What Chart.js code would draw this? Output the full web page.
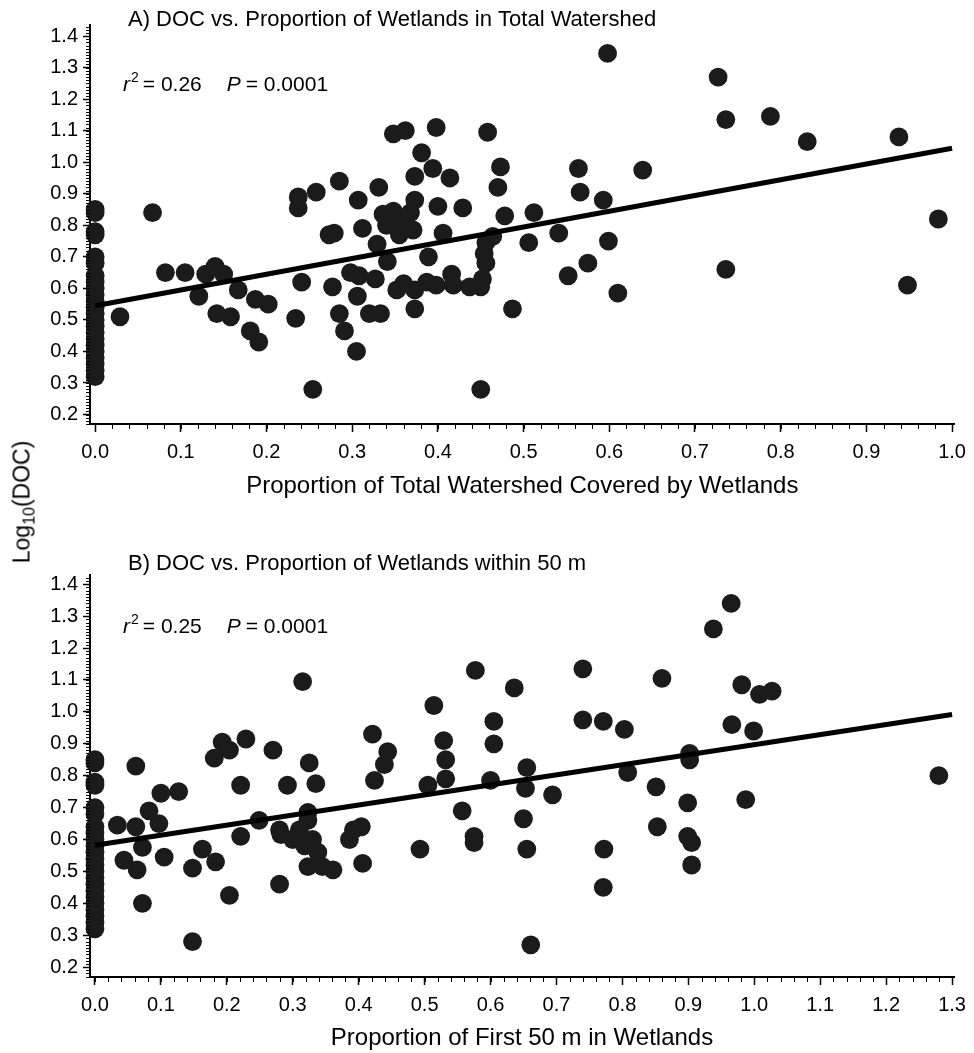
<!DOCTYPE html>
<html>
<head>
<meta charset="utf-8">
<script src="https://cdn.jsdelivr.net/npm/chart.js"></script>
<style>
  body { margin: 0; background: #fff; }
  #wrap { position: relative; width: 974px; height: 1053px; }
  #wrap canvas { position: absolute; left: 0; }
  #ylab {
    position: absolute; left: 22px; top: 502px;
    transform: translate(-50%, -50%) rotate(-90deg);
    font: 23px "Liberation Sans", Arial, sans-serif; line-height: 1;
    white-space: nowrap; color: #000;
  }
  #ylab sub { font-size: 16px; position: relative; top: 5px; vertical-align: baseline; }
</style>
</head>
<body>
<div id="wrap">
  <canvas id="chartA" width="974" height="530" style="top:0"></canvas>
  <canvas id="chartB" width="974" height="523" style="top:530px"></canvas>
  <div id="ylab">Log<sub>10</sub>(DOC)</div>
</div>
<script>
const FONT = '"Liberation Sans", Arial, Helvetica, sans-serif';

// tick labels
const yTicks = [0.2, 0.3, 0.4, 0.5, 0.6, 0.7, 0.8, 0.9, 1.0, 1.1, 1.2, 1.3, 1.4];
const xTicksA = [0, 0.1, 0.2, 0.3, 0.4, 0.5, 0.6, 0.7, 0.8, 0.9, 1.0];
const xTicksB = [0, 0.1, 0.2, 0.3, 0.4, 0.5, 0.6, 0.7, 0.8, 0.9, 1.0, 1.1, 1.2, 1.3];

// A) proportion of total watershed covered by wetlands vs log10(DOC)
const wetTotal = [
  0, 0, 0, 0, 0, 0, 0, 0, 0, 0, 0, 0, 0, 0, 0, 0, 0, 0, 0, 0, 0, 0, 0,
  0.029, 0.067, 0.082, 0.105, 0.121, 0.129, 0.140, 0.150, 0.142, 0.158, 0.167, 0.181, 0.191, 0.187, 0.202,
  0.234, 0.241, 0.237, 0.237, 0.258, 0.285, 0.254, 0.279, 0.273, 0.277, 0.285, 0.291, 0.298, 0.307, 0.306,
  0.305, 0.312, 0.308, 0.331, 0.329, 0.320, 0.333, 0.327, 0.341, 0.336, 0.340, 0.348, 0.352, 0.355, 0.364,
  0.368, 0.371, 0.373, 0.373, 0.348, 0.362, 0.381, 0.394, 0.398, 0.414, 0.400, 0.389, 0.406, 0.429, 0.352,
  0.360, 0.373, 0.373, 0.387, 0.398, 0.416, 0.418, 0.437, 0.450, 0.452, 0.456, 0.454, 0.456, 0.464, 0.450,
  0.458, 0.473, 0.470, 0.478, 0.487, 0.506, 0.512, 0.541, 0.552, 0.564, 0.566, 0.575, 0.593, 0.599, 0.598,
  0.610, 0.639, 0.727, 0.736, 0.736, 0.788, 0.831, 0.938, 0.948, 0.984
];
const docTotal = [
  0.85, 0.84, 0.78, 0.77, 0.70, 0.68, 0.64, 0.62, 0.60, 0.58, 0.56, 0.54, 0.52, 0.50, 0.48, 0.46, 0.44, 0.42, 0.40, 0.38, 0.36, 0.34, 0.32,
  0.51, 0.84, 0.65, 0.65, 0.575, 0.645, 0.67, 0.645, 0.52, 0.51, 0.595, 0.465, 0.43, 0.565, 0.55,
  0.505, 0.62, 0.89, 0.855, 0.905, 0.94, 0.28, 0.775, 0.77, 0.605, 0.52, 0.465, 0.65, 0.88, 0.575,
  0.40, 0.79, 0.64, 0.92, 0.74, 0.52, 0.52, 0.63, 0.685, 0.835, 0.80, 0.845, 0.82, 0.77, 0.80,
  0.84, 0.785, 0.88, 0.955, 1.09, 1.10, 1.03, 0.98, 1.11, 0.95, 0.86, 0.70, 0.775, 0.855, 0.595,
  0.615, 0.595, 0.535, 0.62, 0.61, 0.645, 0.61, 0.605, 0.605, 0.63, 0.68, 0.71, 0.745, 0.765, 0.28,
  1.095, 0.985, 0.92, 0.83, 0.535, 0.745, 0.84, 0.775, 0.64, 0.98, 0.905, 0.68, 0.88, 0.75, 1.345,
  0.585, 0.975, 1.27, 1.135, 0.66, 1.145, 1.065, 1.08, 0.61, 0.82
];
const fitA = [{ x: 0, y: 0.545 }, { x: 1.0, y: 1.044 }];

// B) proportion of first 50 m in wetlands vs log10(DOC)
const wet50 = [
  0, 0, 0, 0, 0, 0, 0, 0, 0, 0, 0, 0, 0, 0, 0, 0, 0, 0, 0, 0, 0, 0, 0,
  0.034, 0.044, 0.062, 0.062, 0.064, 0.072, 0.072, 0.082, 0.097, 0.100, 0.105, 0.127, 0.148, 0.148, 0.163,
  0.181, 0.183, 0.193, 0.204, 0.204, 0.221, 0.221, 0.229, 0.249, 0.270, 0.280, 0.282, 0.280, 0.292, 0.300,
  0.310, 0.315, 0.318, 0.323, 0.323, 0.323, 0.325, 0.330, 0.335, 0.338, 0.345, 0.361, 0.386, 0.392, 0.404,
  0.406, 0.421, 0.424, 0.439, 0.444, 0.493, 0.505, 0.514, 0.529, 0.532, 0.532, 0.557, 0.575, 0.575, 0.577,
  0.600, 0.605, 0.605, 0.636, 0.650, 0.653, 0.655, 0.655, 0.661, 0.694, 0.740, 0.740, 0.771, 0.771, 0.772,
  0.803, 0.808, 0.851, 0.853, 0.860, 0.899, 0.899, 0.902, 0.902, 0.905, 0.905, 0.938, 0.965, 0.966, 0.981,
  0.987, 0.999, 1.008, 1.027, 1.280
];
const doc50 = [
  0.85, 0.84, 0.78, 0.77, 0.70, 0.68, 0.64, 0.62, 0.60, 0.58, 0.56, 0.54, 0.52, 0.50, 0.48, 0.46, 0.44, 0.42, 0.40, 0.38, 0.36, 0.34, 0.32,
  0.645, 0.535, 0.83, 0.64, 0.505, 0.575, 0.40, 0.69, 0.65, 0.745, 0.545, 0.75, 0.51, 0.28, 0.57,
  0.855, 0.53, 0.905, 0.88, 0.425, 0.77, 0.61, 0.915, 0.66, 0.88, 0.63, 0.615, 0.46, 0.77, 0.60,
  0.63, 1.095, 0.58, 0.685, 0.66, 0.515, 0.84, 0.60, 0.775, 0.56, 0.515, 0.505, 0.60, 0.63, 0.64,
  0.525, 0.93, 0.785, 0.835, 0.875, 0.57, 0.77, 1.02, 0.91, 0.85, 0.79, 0.69, 0.61, 0.59, 1.13,
  0.785, 0.97, 0.90, 1.075, 0.665, 0.76, 0.825, 0.57, 0.27, 0.74, 1.135, 0.975, 0.97, 0.45, 0.57,
  0.945, 0.81, 0.765, 0.64, 1.105, 0.715, 0.61, 0.87, 0.85, 0.59, 0.52, 1.26, 1.34, 0.96, 1.085,
  0.725, 0.94, 1.055, 1.065, 0.80
];
const fitB = [{ x: 0, y: 0.582 }, { x: 1.3, y: 0.992 }];

// small ticks between the labelled ones
const minorTicks = {
  id: 'minorTicks',
  afterDraw(chart) {
    const { ctx, scales: { x, y } } = chart;
    ctx.save();
    ctx.strokeStyle = '#000';
    ctx.lineWidth = 1;
    ctx.beginPath();
    for (let i = Math.ceil(x.min / 0.02); i * 0.02 <= x.max + 1e-9; i++) {
      const px = Math.round(x.getPixelForValue(i * 0.02)) + 0.5;
      ctx.moveTo(px, x.top);
      ctx.lineTo(px, x.top + 5);
    }
    for (let i = Math.ceil(y.min / 0.01); i * 0.01 <= y.max + 1e-9; i++) {
      const py = Math.round(y.getPixelForValue(i * 0.01)) + 0.5;
      ctx.moveTo(y.right, py);
      ctx.lineTo(y.right - 4, py);
    }
    ctx.stroke();
    ctx.restore();
  }
};

// panel title and r^2 / P note
function panelText(o) {
  return {
    id: 'panelText',
    afterDraw(chart) {
      const ctx = chart.ctx;
      ctx.save();
      ctx.fillStyle = '#000';
      ctx.textAlign = 'left';
      ctx.textBaseline = 'alphabetic';
      ctx.font = '22px ' + FONT;
      ctx.fillText(o.title, 128, o.titleY);

      let x = 123;
      const y = o.statY;
      ctx.font = 'italic 21px ' + FONT;
      ctx.fillText('r', x, y);
      x += ctx.measureText('r').width + 1;
      ctx.font = '14px ' + FONT;
      ctx.fillText('2', x, y - 9);
      x += ctx.measureText('2').width + 4;
      ctx.font = '21px ' + FONT;
      let s = '= ' + o.r2;
      ctx.fillText(s, x, y);
      x += ctx.measureText(s).width + 25;
      ctx.font = 'italic 21px ' + FONT;
      ctx.fillText('P', x, y);
      x += ctx.measureText('P').width + 5;
      ctx.font = '21px ' + FONT;
      ctx.fillText('= ' + o.p, x, y);
      ctx.restore();
    }
  };
}

function makePanel(id, o) {
  return new Chart(document.getElementById(id), {
    type: 'scatter',
    data: {
      datasets: [
        {
          type: 'line', data: o.fit, borderColor: '#000', borderWidth: 5,
          pointRadius: 0, fill: false, clip: false, order: 0
        },
        {
          data: o.xs.map((v, i) => ({ x: v, y: o.ys[i] })),
          pointRadius: 9.4, pointHoverRadius: 9.4, backgroundColor: '#1b1b1b',
          borderWidth: 0, clip: false, order: 1
        }
      ]
    },
    options: {
      responsive: false,
      animation: false,
      events: [],
      layout: { autoPadding: false, padding: o.pad },
      plugins: { legend: { display: false }, tooltip: { enabled: false } },
      scales: {
        x: {
          type: 'linear', min: o.xMin, max: o.xMax,
          afterBuildTicks: s => { s.ticks = o.xTicks.map(v => ({ value: v })); },
          afterFit: s => { s.height = o.xHeight; },
          ticks: {
            callback: v => v.toFixed(1), color: '#000', padding: 8,
            font: { family: FONT, size: 20 }, autoSkip: false, maxRotation: 0
          },
          grid: { drawOnChartArea: false, drawTicks: true, tickLength: 8, tickColor: '#000', tickWidth: 1.5 },
          border: { display: true, color: '#000', width: 2 },
          title: {
            display: true, text: o.xTitle, color: '#000',
            font: { family: FONT, size: 24 }, padding: o.titlePad
          }
        },
        y: {
          type: 'linear', min: o.yMin, max: o.yMax,
          afterBuildTicks: s => { s.ticks = yTicks.map(v => ({ value: v })); },
          afterFit: s => { s.width = 90; },
          ticks: {
            callback: v => v.toFixed(1), color: '#000', padding: 5,
            font: { family: FONT, size: 20 }
          },
          grid: { drawOnChartArea: false, drawTicks: true, tickLength: 7, tickColor: '#000', tickWidth: 1.5 },
          border: { display: true, color: '#000', width: 2 }
        }
      }
    },
    plugins: [minorTicks, panelText(o)]
  });
}

makePanel('chartA', {
  xs: wetTotal, ys: docTotal, fit: fitA, xTicks: xTicksA,
  xMin: -0.006, xMax: 1.003, yMin: 0.17, yMax: 1.435,
  pad: { left: 0, right: 14, top: 25, bottom: 0 }, xHeight: 106,
  xTitle: 'Proportion of Total Watershed Covered by Wetlands',
  titlePad: { top: 4, bottom: 29 },
  title: 'A) DOC vs. Proportion of Wetlands in Total Watershed', titleY: 26,
  statY: 91, r2: '0.26', p: '0.0001'
});

makePanel('chartB', {
  xs: wet50, ys: doc50, fit: fitB, xTicks: xTicksB,
  xMin: -0.0075, xMax: 1.303, yMin: 0.169, yMax: 1.429,
  pad: { left: 0, right: 16, top: 45, bottom: 0 }, xHeight: 76,
  xTitle: 'Proportion of First 50 m in Wetlands',
  titlePad: { top: 0, bottom: 0 },
  title: 'B) DOC vs. Proportion of Wetlands within 50 m', titleY: 40,
  statY: 103, r2: '0.25', p: '0.0001'
});
</script>
</body>
</html>
